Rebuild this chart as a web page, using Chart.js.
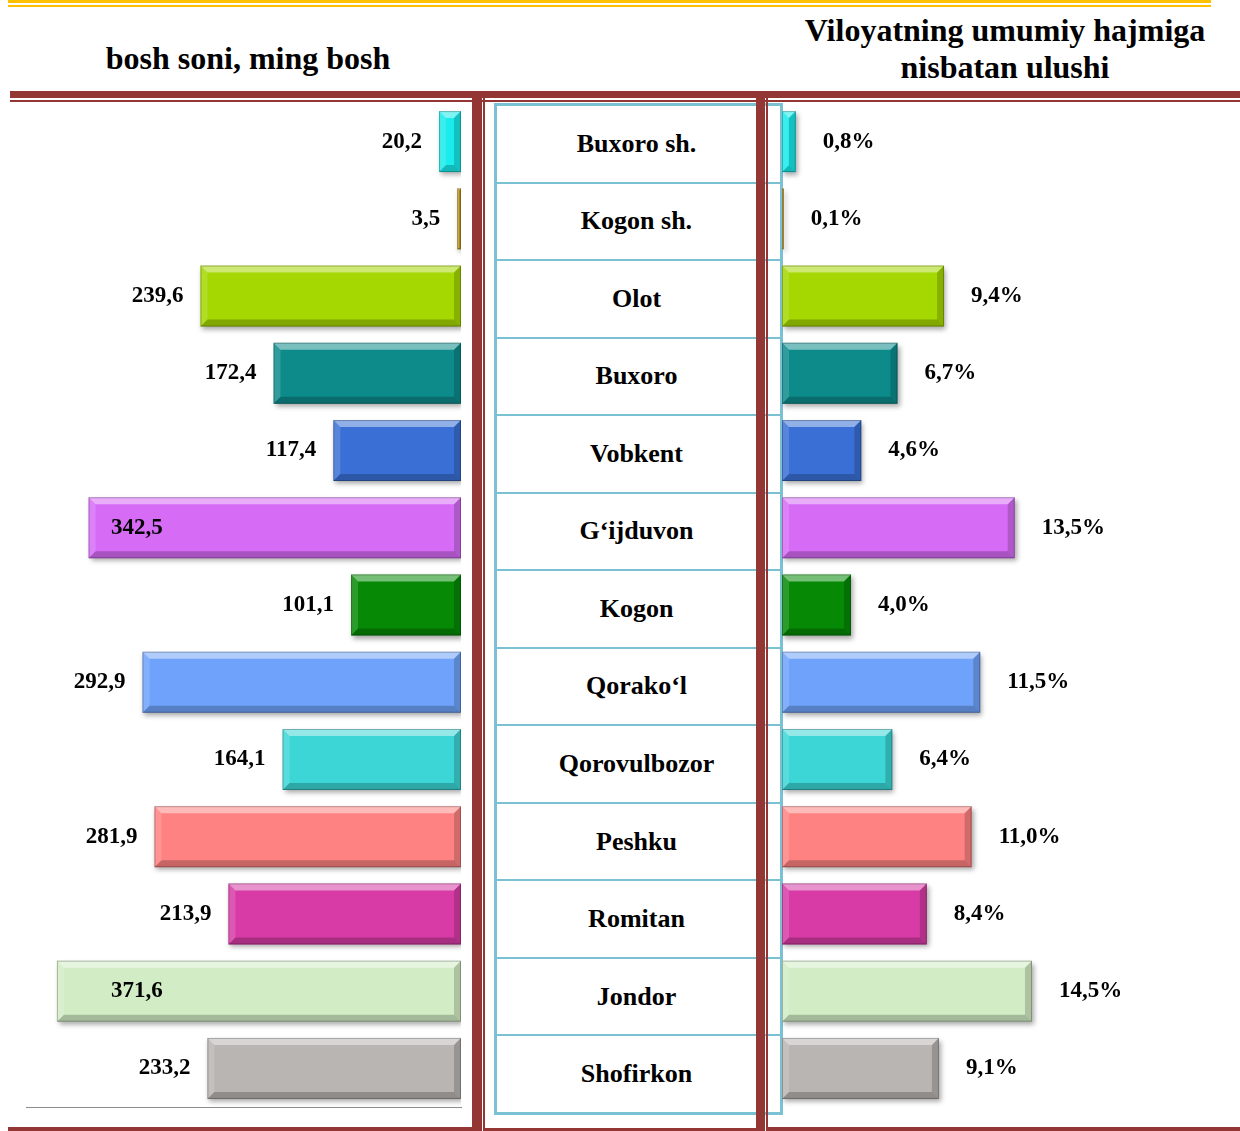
<!DOCTYPE html>
<html>
<head>
<meta charset="utf-8">
<script src="https://cdn.jsdelivr.net/npm/chart.js@4.4.0/dist/chart.umd.min.js"></script>
<style>
    html, body { margin: 0; padding: 0; background: #ffffff; }
    body { width: 1240px; height: 1131px; position: relative; overflow: hidden; font-family: 'Liberation Serif', 'Times New Roman', serif; }
    .abs { position: absolute; }
    .gold { background: #ffc000; }
    .red { background: #943634; }
    .head { font-weight: bold; font-size: 32px; color: #000; text-align: center; }
    #leftBox { left: 0; top: 0; width: 470px; height: 1131px; }
    #rightBox { left: 770px; top: 0; width: 470px; height: 1131px; }
    #names { left: 494px; top: 103px; width: 289px; height: 1012px; border: 3px solid #7bc1d4; box-sizing: border-box; display: flex; flex-direction: column; }
    #names div { flex: 1; display: flex; align-items: center; justify-content: center; font-weight: bold; font-size: 26px; color: #000; border-bottom: 2px solid #7bc1d4; padding-right: 4px; }
    #names div:last-child { border-bottom: none; }
</style>
</head>
<body>
<!-- top lines -->
<div class="abs gold" style="left:8px; top:0; width:1203px; height:3px;"></div>
<div class="abs gold" style="left:8px; top:5px; width:1203px; height:2px;"></div>

<div class="abs head" style="left:48px; top:39px; width:400px; line-height:38px;">bosh soni, ming bosh</div>
<div class="abs head" style="left:755px; top:12px; width:500px; line-height:37px;">Viloyatning umumiy hajmiga<br>nisbatan ulushi</div>

<div class="abs red" style="left:10px; top:91px; width:1230px; height:7px;"></div>
<div class="abs red" style="left:10px; top:100px; width:1230px; height:2px;"></div>

<div id="names" class="abs"></div>

<div id="leftBox" class="abs"><canvas id="leftChart"></canvas></div>
<div id="rightBox" class="abs"><canvas id="rightChart"></canvas></div>

<!-- vertical and bottom frame lines -->
<div class="abs red" style="left:472px; top:98px; width:10px; height:1033px;"></div>
<div class="abs red" style="left:483px; top:98px; width:2px; height:1033px;"></div>
<div class="abs red" style="left:756px; top:98px; width:9px; height:1033px;"></div>
<div class="abs red" style="left:766px; top:98px; width:2px; height:1033px;"></div>
<div class="abs red" style="left:8px; top:1127px; width:464px; height:4px;"></div>
<div class="abs red" style="left:483px; top:1128px; width:273px; height:3px;"></div>
<div class="abs red" style="left:766px; top:1127px; width:474px; height:4px;"></div>

<script>
// Districts (top to bottom)
const districts = ['Buxoro sh.', 'Kogon sh.', 'Olot', 'Buxoro', 'Vobkent', 'G\u2018ijduvon', 'Kogon',
    'Qorako\u2018l', 'Qorovulbozor', 'Peshku', 'Romitan', 'Jondor', 'Shofirkon'];

// Head count, thousand head
const headCount = [20.2, 3.5, 239.6, 172.4, 117.4, 342.5, 101.1, 292.9, 164.1, 281.9, 213.9, 371.6, 233.2];

// Share of region total, %
const sharePct = [0.8, 0.1, 9.4, 6.7, 4.6, 13.5, 4.0, 11.5, 6.4, 11.0, 8.4, 14.5, 9.1];

const barColors = ['#19ecec', '#c9a227', '#a5d800', '#0d8b8b', '#3a70d6', '#d66cf6', '#068a06',
    '#6fa3fb', '#3cd6d6', '#ff8282', '#d83ba6', '#d2edc5', '#b9b5b2'];

const LABEL_FONT = 'bold 23px "Liberation Serif", "Times New Roman", serif';

// fill the names column
const namesBox = document.getElementById('names');
districts.forEach(name => {
    const cell = document.createElement('div');
    cell.textContent = name;
    namesBox.appendChild(cell);
});

function fmt(v) {
    return v.toFixed(1).replace('.', ',');
}

// shadow under the bars
const shadowPlugin = {
    id: 'barShadow',
    beforeDatasetsDraw(chart) {
        const ctx = chart.ctx;
        ctx.save();
        ctx.shadowColor = 'rgba(0, 0, 0, 0.35)';
        ctx.shadowBlur = 5;
        ctx.shadowOffsetX = 2;
        ctx.shadowOffsetY = 3;
    },
    afterDatasetsDraw(chart) {
        chart.ctx.restore();
    }
};

// bevel look on each bar
function poly(ctx, pts, color) {
    ctx.beginPath();
    ctx.moveTo(pts[0][0], pts[0][1]);
    for (let i = 1; i < pts.length; i++) ctx.lineTo(pts[i][0], pts[i][1]);
    ctx.closePath();
    ctx.fillStyle = color;
    ctx.fill();
}

const bevelPlugin = {
    id: 'bevel',
    afterDatasetsDraw(chart) {
        const ctx = chart.ctx;
        const meta = chart.getDatasetMeta(0);
        ctx.save();
        meta.data.forEach(bar => {
            const p = bar.getProps(['x', 'y', 'base', 'height'], true);
            const L = Math.min(p.x, p.base);
            const R = Math.max(p.x, p.base);
            const T = p.y - p.height / 2;
            const B = p.y + p.height / 2;
            const b = Math.min(7, (R - L) / 2, (B - T) / 2);
            poly(ctx, [[L, T], [R, T], [R - b, T + b], [L + b, T + b]], 'rgba(255,255,255,0.45)');
            poly(ctx, [[L, B], [R, B], [R - b, B - b], [L + b, B - b]], 'rgba(0,0,0,0.22)');
            poly(ctx, [[L, T], [L + b, T + b], [L + b, B - b], [L, B]], 'rgba(255,255,255,0.15)');
            poly(ctx, [[R, T], [R - b, T + b], [R - b, B - b], [R, B]], 'rgba(0,0,0,0.18)');
            ctx.strokeStyle = 'rgba(0,0,0,0.25)';
            ctx.lineWidth = 1;
            ctx.strokeRect(L + 0.5, T + 0.5, Math.max(R - L - 1, 0), B - T - 1);
        });
        ctx.restore();
    }
};

// value labels next to the bars
const labelPlugin = {
    id: 'valueLabels',
    afterDatasetsDraw(chart, args, opts) {
        const ctx = chart.ctx;
        const meta = chart.getDatasetMeta(0);
        const values = chart.data.datasets[0].data;
        ctx.save();
        ctx.font = LABEL_FONT;
        ctx.fillStyle = '#000';
        ctx.textBaseline = 'middle';
        meta.data.forEach((bar, i) => {
            const p = bar.getProps(['x', 'y'], true);
            const text = fmt(values[i]) + (opts.suffix || '');
            if (opts.side === 'left') {
                const w = ctx.measureText(text).width;
                const x = p.x - 17;
                if (x - w < chart.chartArea.left + 20) {
                    // no room outside: put it inside the bar
                    ctx.textAlign = 'left';
                    ctx.fillText(text, chart.chartArea.left + 85, p.y);
                } else {
                    ctx.textAlign = 'right';
                    ctx.fillText(text, x, p.y);
                }
            } else {
                ctx.textAlign = 'left';
                ctx.fillText(text, p.x + 27, p.y);
            }
        });
        ctx.restore();
    }
};

function makeChart(id, values, xMax, reversed, padding, labelOpts, showBase) {
    return new Chart(document.getElementById(id).getContext('2d'), {
        type: 'bar',
        data: {
            labels: districts,
            datasets: [{
                data: values,
                backgroundColor: barColors,
                borderWidth: 0,
                barPercentage: 0.79,
                categoryPercentage: 1.0
            }]
        },
        options: {
            indexAxis: 'y',
            responsive: true,
            maintainAspectRatio: false,
            animation: false,
            layout: { padding: padding },
            plugins: {
                legend: { display: false },
                tooltip: { enabled: false },
                valueLabels: labelOpts
            },
            scales: {
                x: {
                    type: 'linear',
                    min: 0,
                    max: xMax,
                    reverse: reversed,
                    display: showBase,
                    ticks: { display: false },
                    grid: { display: false },
                    border: { display: true, color: '#8c8c8c', width: 1 }
                },
                y: {
                    display: false
                }
            }
        },
        plugins: [shadowPlugin, bevelPlugin, labelPlugin]
    });
}

makeChart('leftChart', headCount, 400, true,
    { left: 26, right: 9, top: 103, bottom: 16 }, { side: 'left', suffix: '' }, true);
makeChart('rightChart', sharePct, 25, false,
    { left: 12, right: 27, top: 103, bottom: 24 }, { side: 'right', suffix: '%' }, false);
</script>
</body>
</html>
